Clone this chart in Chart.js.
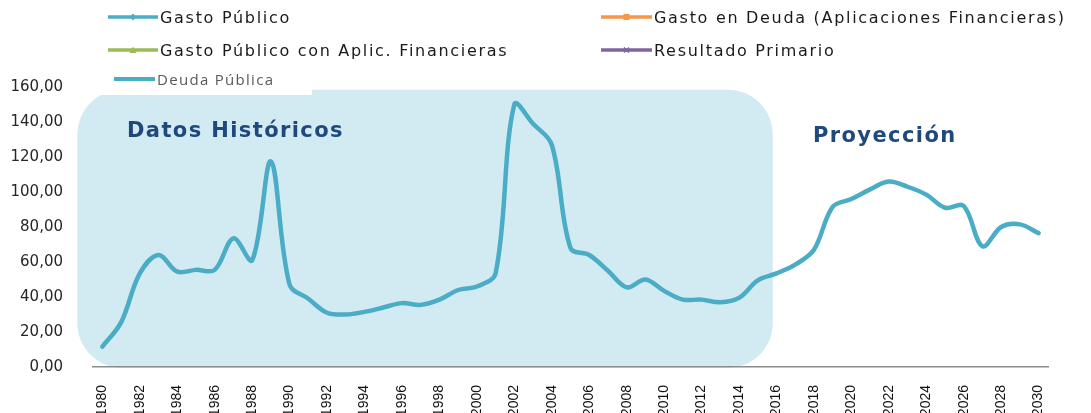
<!DOCTYPE html>
<html><head><meta charset="utf-8">
<script src="https://cdn.jsdelivr.net/npm/chart.js@4.4.1/dist/chart.umd.min.js"></script>
<style>
html,body{margin:0;padding:0;background:#fff;}
#wrap{position:relative;width:1091px;height:413px;overflow:hidden;background:#fff;}
#c{position:absolute;left:0;top:0;}
.leg{position:absolute;display:flex;align-items:center;white-space:nowrap;font-family:"DejaVu Sans";font-size:16px;color:#1a1a1a;letter-spacing:1.7px;}
.leg svg{display:block;margin-right:2px;}
.note{position:absolute;font-family:"DejaVu Sans";font-weight:bold;font-size:21px;color:#1f497d;white-space:nowrap;line-height:1;letter-spacing:1.4px;}
#whitebox{position:absolute;left:74px;top:62px;width:238px;height:33px;background:#fff;}
</style>
</head><body>
<div id="wrap">
<canvas id="c" width="1091" height="413"></canvas>
<div id="whitebox"></div>
<div id="legend"></div>
<div class="note" id="n1" style="left:127px;top:120px;">Datos Históricos</div>
<div class="note" id="n2" style="left:813px;top:125px;">Proyección</div>
</div>
<script>
const years = ["1980","1981","1982","1983","1984","1985","1986","1987","1988","1989","1990",
"1991","1992","1993","1994","1995","1996","1997","1998","1999","2000",
"2001","2002","2003","2004","2005","2006","2007","2008","2009","2010",
"2011","2012","2013","2014","2015","2016","2017","2018","2019","2020",
"2021","2022","2023","2024","2025","2026","2027","2028","2029","2030"];

const deudaPublica = [11.6, 25.5, 53.5, 64, 54.5, 55.5, 55.5, 73.5, 61, 117.5, 47,
39, 31, 30, 31.5, 34, 36.5, 35.5, 38.5, 44, 46,
53.5, 150, 139, 127, 68, 64, 55, 45.5, 50, 43.5,
38.5, 38.5, 37, 39.5, 49.5, 53.5, 58.5, 67, 91.5, 96,
101.5, 106, 103, 98.5, 91, 92, 69, 80, 81.5, 76.5];

const gastoPublico = [];
const gastoDeuda = [];
const gastoPublicoAplic = [];
const resultadoPrimario = [];

const yTicks = [0, 20, 40, 60, 80, 100, 120, 140, 160];

const seriesNames = ["Gasto Público", "Gasto en Deuda (Aplicaciones Financieras)",
  "Gasto Público con Aplic. Financieras", "Resultado Primario", "Deuda Pública"];
const seriesColors = ["#4bacc6", "#f79646", "#9bbb59", "#8064a2", "#4bacc6"];
const markerShapes = ["diamond", "square", "triangle", "cross", "none"];

const regionPlugin = {
  id: 'region',
  beforeDraw(chart) {
    const {ctx, scales: {x, y}} = chart;
    const left = x.getPixelForValue(0) - 25;
    const right = x.getPixelForValue(35) + 15;
    const top = y.getPixelForValue(158.5);
    const bottom = y.getPixelForValue(0) + 1;
    const r = 45;
    ctx.save();
    ctx.fillStyle = '#d2eaf2';
    ctx.beginPath();
    ctx.roundRect(left, top, right - left, bottom - top, r);
    ctx.fill();
    ctx.restore();
  }
};

const ctx = document.getElementById('c').getContext('2d');
const chart = new Chart(ctx, {
  type: 'line',
  data: {
    labels: years,
    datasets: [
      {label: seriesNames[0], data: gastoPublico, borderColor: seriesColors[0], backgroundColor: seriesColors[0]},
      {label: seriesNames[1], data: gastoDeuda, borderColor: seriesColors[1], backgroundColor: seriesColors[1]},
      {label: seriesNames[2], data: gastoPublicoAplic, borderColor: seriesColors[2], backgroundColor: seriesColors[2]},
      {label: seriesNames[3], data: resultadoPrimario, borderColor: seriesColors[3], backgroundColor: seriesColors[3]},
      {label: seriesNames[4], data: deudaPublica, borderColor: seriesColors[4], backgroundColor: seriesColors[4],
       borderWidth: 4.5, pointRadius: 0, tension: 0.35, borderCapStyle: 'round', borderJoinStyle: 'round'}
    ]
  },
  options: {
    responsive: false,
    animation: false,
    devicePixelRatio: 1,
    layout: {padding: {top: 87, right: 43, left: 0, bottom: 0}},
    plugins: {legend: {display: false}, tooltip: {enabled: false}},
    elements: {point: {radius: 0}},
    scales: {
      x: {
        type: 'category',
        offset: true,
        grid: {display: false},
        border: {display: true, color: '#8c8c8c', width: 1.5},
        ticks: {
          autoSkip: false, maxRotation: 90, minRotation: 90, padding: 10,
          color: '#111', font: {family: 'Liberation Sans', size: 14},
          callback: function(v, i) { return i % 2 === 0 ? years[i] : ''; }
        },
        afterFit: function(s) { s.height = 46; }
      },
      y: {
        min: 0, max: 160,
        grid: {display: false},
        border: {display: false},
        afterBuildTicks: function(s) { s.ticks = yTicks.map(v => ({value: v})); },
        ticks: {
          padding: 22, color: '#262626', font: {family: 'DejaVu Sans', size: 15},
          callback: function(v) { return Number(v).toFixed(2).replace('.', ','); }
        },
        afterFit: function(s) { s.width = 93; }
      }
    }
  },
  plugins: [regionPlugin]
});

// HTML legend built from the chart's datasets
const legendPos = [
  {mx: 108, mw: 50, cy: 17},
  {mx: 601, mw: 51, cy: 17},
  {mx: 108, mw: 50, cy: 50},
  {mx: 601, mw: 51, cy: 50},
  {mx: 114, mw: 41, cy: 79}
];
function markerSvg(color, shape, w, thick) {
  const h = 12, m = w / 2, c = h / 2;
  let mk = '';
  if (shape === 'diamond') mk = `<polygon points="${m-3},${c} ${m},${c-3.5} ${m+3},${c} ${m},${c+3.5}" fill="${color}"/>`;
  else if (shape === 'square') mk = `<rect x="${m-3}" y="${c-3}" width="6" height="6" fill="${color}"/>`;
  else if (shape === 'triangle') mk = `<polygon points="${m-3.5},${c+3} ${m+3.5},${c+3} ${m},${c-3.5}" fill="${color}"/>`;
  else if (shape === 'cross') mk = `<path d="M${m-2.5},${c-2.5} L${m+2.5},${c+2.5} M${m+2.5},${c-2.5} L${m-2.5},${c+2.5}" stroke="${color}" stroke-width="1.5"/>`;
  return `<svg width="${w}" height="${h}" viewBox="0 0 ${w} ${h}"><line x1="0" y1="${c}" x2="${w}" y2="${c}" stroke="${color}" stroke-width="${thick}"/>${mk}</svg>`;
}
const legendEl = document.getElementById('legend');
chart.data.datasets.forEach((ds, i) => {
  const p = legendPos[i];
  const d = document.createElement('div');
  d.className = 'leg';
  d.style.left = p.mx + 'px';
  d.style.top = (p.cy - 10) + 'px';
  d.style.height = '20px';
  if (i === 4) {
    d.style.fontFamily = '"Open Sans"';
    d.style.fontSize = '15px';
    d.style.color = '#595959';
    d.style.letterSpacing = '1.3px';
  }
  d.innerHTML = markerSvg(ds.borderColor, markerShapes[i], p.mw, i === 4 ? 4 : 3.5) + '<span>' + ds.label + '</span>';
  legendEl.appendChild(d);
});
</script>
</body></html>
